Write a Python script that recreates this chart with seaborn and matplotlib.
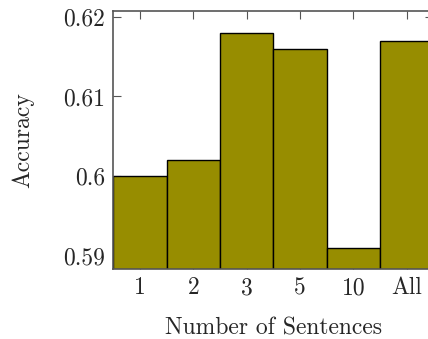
import matplotlib
matplotlib.use('Agg')
import matplotlib.pyplot as plt
import seaborn as sns

sentences = ['1', '2', '3', '5', '10', 'All']
accuracy = [0.600, 0.602, 0.618, 0.616, 0.591, 0.617]
yticks = [0.59, 0.60, 0.61, 0.62]
ytick_labels = ['0.59', '0.6', '0.61', '0.62']

sns.set_style('white')
plt.rcParams['font.family'] = ['cmr10', 'DejaVu Serif']
plt.rcParams['axes.formatter.use_mathtext'] = True

fig = plt.figure(figsize=(4.28, 3.39), dpi=100)
ax = fig.add_axes([113.3 / 428, 1 - 269 / 339, (433.3 - 113.3) / 428, (269 - 10.5) / 339])

sns.barplot(x=sentences, y=accuracy, order=sentences, color='#978D00', saturation=1,
            width=1, edgecolor='black', linewidth=1, ax=ax)

ax.set_xlim(-0.5, 5.5)
ax.set_ylim(0.58837, 0.62078)
ax.set_yticks(yticks)
ax.set_yticklabels(ytick_labels)
ax.set_axisbelow(True)
ax.tick_params(axis='both', direction='in', length=6, width=0.8, color='#555555',
               labelsize=17, top=True, right=True, bottom=True, left=True, pad=6)
for s in ax.spines.values():
    s.set_color('#555555')
    s.set_linewidth(1.2)

ax.set_xlabel('Number of Sentences', fontsize=17, labelpad=13)
ax.set_ylabel('Accuracy', fontsize=17, labelpad=21)

fig.savefig('out.png', dpi=100)
